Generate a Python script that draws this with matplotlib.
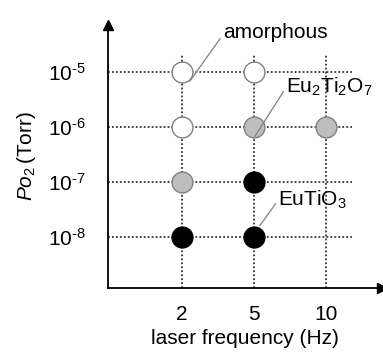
import matplotlib.pyplot as plt

plt.rcParams['font.family'] = 'Liberation Sans'
plt.rcParams['mathtext.fontset'] = 'custom'
plt.rcParams['mathtext.rm'] = 'Liberation Sans'
plt.rcParams['mathtext.it'] = 'Liberation Sans:italic'

# laser frequency categories (Hz) and oxygen pressure exponents (Torr)
freqs = ['2', '5', '10']
p_exp = [-5, -6, -7, -8]

# phase found at each growth condition
amorphous_f = ['2', '5', '2']
amorphous_p = [-5, -5, -6]
eu2ti2o7_f = ['5', '10', '2']
eu2ti2o7_p = [-6, -6, -7]
eutio3_f = ['5', '2', '5']
eutio3_p = [-7, -8, -8]

xpos = {f: i + 1 for i, f in enumerate(freqs)}

fig = plt.figure(figsize=(3.83, 3.53), dpi=100)
ax = fig.add_axes([108/383, 1 - 288/353, 274/383, 263/353])
ax.set_xlim(-0.028, 3.78)
ax.set_ylim(-8.93, -4.15)

# dotted grid
for p in p_exp:
    ax.plot([-0.028, 3.36], [p, p], ls=(0, (1, 1.2)), color='#333333', lw=1.3, zorder=1)
for f in freqs:
    ax.plot([xpos[f], xpos[f]], [-8.93, -4.69], ls=(0, (1, 1.2)), color='#333333', lw=1.3, zorder=1)

ms = 15
ec = '#808080'
ax.plot([xpos[f] for f in amorphous_f], amorphous_p, 'o', ms=ms, mfc='white', mec=ec, mew=1, zorder=3)
ax.plot([xpos[f] for f in eu2ti2o7_f], eu2ti2o7_p, 'o', ms=ms, mfc='#bdbdbd', mec=ec, mew=1, zorder=3)
ax.plot([xpos[f] for f in eutio3_f], eutio3_p, 'o', ms=ms, mfc='black', mec='black', mew=1, zorder=3)

# axes with arrow heads
for s in ['top', 'right']:
    ax.spines[s].set_visible(False)
ax.spines['left'].set_linewidth(1.3)
ax.spines['bottom'].set_linewidth(1.3)
ax.plot(1, 0, '>', color='black', ms=7, transform=ax.transAxes, clip_on=False)
ax.plot(0, 1, '^', color='black', ms=7, transform=ax.transAxes, clip_on=False)

ax.set_xticks([xpos[f] for f in freqs])
ax.set_xticklabels(freqs)
ax.set_yticks(p_exp)
ax.set_yticklabels([r'$\mathregular{10^{\text{%d}}}$' % p for p in p_exp])
ax.tick_params(length=0, labelsize=15)
ax.tick_params(axis='y', pad=16)
ax.tick_params(axis='x', pad=12)

ax.set_xlabel('laser frequency (Hz)', fontsize=15, labelpad=4)
ax.set_ylabel(r'$\mathit{Po}_\mathregular{2}\,$(Torr)', fontsize=15, labelpad=7)

# phase labels
lc = '#808080'
ax.annotate('amorphous', xy=(1.11, -5.17), xytext=(1.57, -4.29), fontsize=15,
            va='center', ha='left',
            arrowprops=dict(arrowstyle='-', color=lc, lw=0.9, shrinkA=0, shrinkB=0,
                            relpos=(0, 0.4)))
ax.annotate(r'$\mathregular{Eu_2Ti_2O_7}$', xy=(2.01, -6.18), xytext=(2.45, -5.28), fontsize=15,
            va='center', ha='left',
            arrowprops=dict(arrowstyle='-', color=lc, lw=0.9, shrinkA=0, shrinkB=0,
                            relpos=(0, 0.5)))
ax.annotate(r'$\mathregular{EuTiO_3}$', xy=(2.08, -7.8), xytext=(2.34, -7.33), fontsize=15,
            va='center', ha='left',
            arrowprops=dict(arrowstyle='-', color=lc, lw=0.9, shrinkA=0, shrinkB=0,
                            relpos=(0, 0.5)))

fig.savefig('out.png', dpi=100)
